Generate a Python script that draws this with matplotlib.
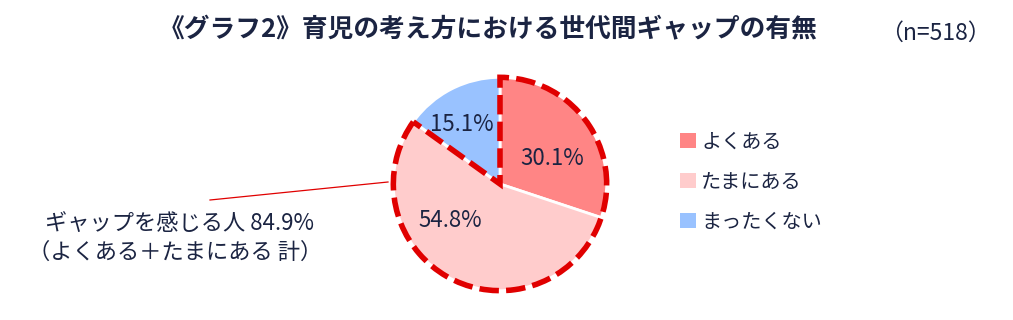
import numpy as np
import matplotlib
matplotlib.use('Agg')
from matplotlib import pyplot as plt
from matplotlib.patches import Wedge, Patch

plt.rcParams['font.family'] = ['Noto Sans CJK JP', 'DejaVu Sans']

labels = ['よくある', 'たまにある', 'まったくない']
values = [30.1, 54.8, 15.1]
colors = ['#FF8585', '#FFCCCC', '#99C2FF']
n_total = 518
gap_label = 'ギャップを感じる人 84.9%'
gap_sub = '（よくある＋たまにある 計）'
title = '《グラフ2》育児の考え方における世代間ギャップの有無'

txt = '#1B2442'
red = '#E00000'

W, H = 1013, 320
fig = plt.figure(figsize=(W / 100, H / 100), dpi=100)

# pie axes: center (500,184), radius 112 px
cx, cy, r = 500, 184, 112
ax = fig.add_axes([(cx - r) / W, (H - cy - r) / H, 2 * r / W, 2 * r / H])
wedges, _ = ax.pie(values, colors=colors, startangle=90, counterclock=False,
                   radius=1, wedgeprops=dict(edgecolor='white', linewidth=2))
ax.set_xlim(-1.05, 1.05)
ax.set_ylim(-1.05, 1.05)
ax.set_aspect('equal')
ax.axis('off')

# percentage labels (manual offsets, like the original)
lbl_pos = [(0.49, 0.24), (-0.47, -0.34), (-0.36, 0.56)]
for v, (x, y) in zip(values, lbl_pos):
    ax.text(x, y, f'{v:.1f}%', ha='center', va='center', fontsize=16, color=txt)

# dashed outline around "gap" group (first two slices)
gap = (values[0] + values[1]) / 100 * 360
ax.add_patch(Wedge((0, 0), 1, 90 - gap, 90, fill=False, edgecolor=red,
                   linewidth=4, linestyle=(0, (3.5, 1.3)),
                   joinstyle='miter', clip_on=False))

# title
fig.text(488 / W, 1 - 30 / H, title, ha='center', va='center', fontsize=18.5,
         fontweight='bold', color=txt)
fig.text(935 / W, 1 - 33 / H, f'（n={n_total}）', ha='center', va='center',
         fontsize=16.5, color=txt)

# annotation
fig.add_artist(plt.Line2D([210 / W, 388 / W], [1 - 200 / H, 1 - 182 / H],
                          color=red, linewidth=0.9, transform=fig.transFigure))
fig.text(45 / W, 1 - 223 / H, gap_label, ha='left', va='center', fontsize=16, color=txt)
fig.text(28 / W, 1 - 252 / H, gap_sub, ha='left', va='center', fontsize=16, color=txt)

# legend
handles = [Patch(facecolor=c, edgecolor='none') for c in colors]
fig.legend(handles, labels, loc='center left', bbox_to_anchor=(662 / W, 1 - 182 / H),
           frameon=False, fontsize=14.5, handlelength=0.8, handleheight=0.8,
           handletextpad=0.25, labelspacing=0.95, labelcolor=txt)

fig.savefig('out.png', dpi=100)
